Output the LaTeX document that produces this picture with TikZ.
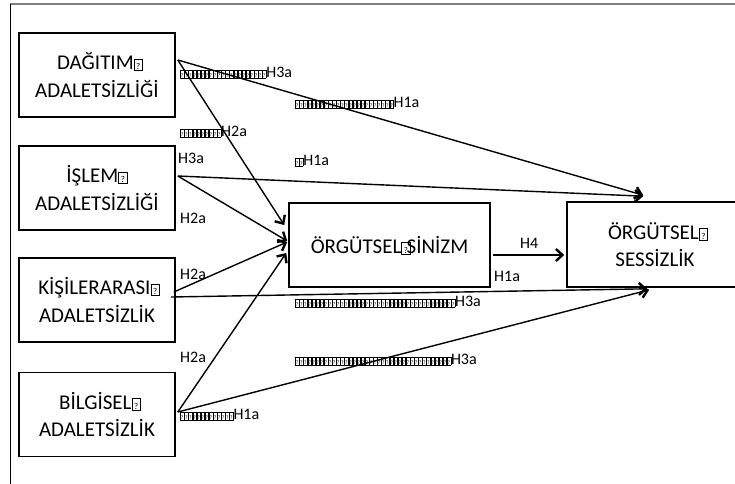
\documentclass[tikz,border=0pt]{standalone}
\usepackage{fontspec}
\setmainfont{Carlito}
\usetikzlibrary{arrows.meta,calc}
\newcommand\qg{{\setlength\fboxsep{0pt}\setlength\fboxrule{0.5pt}\fbox{\makebox[3.1pt]{\rule[-0.5pt]{0pt}{7.5pt}\fontsize{5.5}{5.5}\selectfont ?}}}}
\newcommand\qrow[1]{\foreach \qi in {1,...,#1}{\qg}}
\newcommand\qbig{{\setlength\fboxsep{0pt}\setlength\fboxrule{0.6pt}\fbox{\makebox[8pt]{\rule[-0.5pt]{0pt}{11pt}\fontsize{9}{9}\selectfont ?}}}}
\begin{document}
\begin{tikzpicture}[x=1pt,y=-1pt,
  boxst/.style={draw,line width=1.6pt,minimum width=156pt,minimum height=84pt,inner sep=0pt,align=center,font=\fontsize{21}{27.5}\selectfont},
  lab/.style={anchor=west,inner sep=0pt,font=\fontsize{16}{18}\selectfont},
  conn/.style={line width=1.4pt,-{Straight Barb[length=6.5pt,width=12pt,line width=2.4pt]}}]
\useasboundingbox (0,0) rectangle (735,483);
\draw[line width=1.2pt,gray] (10,4) -- (740,4);
\draw[line width=0.9pt] (10,4) -- (10,490);
\node[boxst] (b1) at (97,75) {\hspace*{6pt}DAĞITIM\qbig\\ADALETSİZLİĞİ};
\node[boxst] (b2) at (97,188) {İŞLEM\qbig\\ADALETSİZLİĞİ};
\node[boxst] (b3) at (97,300) {\hspace*{4pt}KİŞİLERARASI\qbig\\ADALETSİZLİK};
\node[boxst] (b4) at (97,414.5) {\hspace*{6pt}BİLGİSEL\qbig\\ADALETSİZLİK};
\node[boxst,minimum width=201pt] (m) at (389.5,245) {ÖRGÜTSEL\qbig\kern-4pt SİNİZM};
\node[boxst,minimum width=176pt,minimum height=85pt] (r) at (655,244.5) {\hspace*{6pt}ÖRGÜTSEL\qbig\\SESSİZLİK};
% connectors
\draw[conn] ($(b1.east)+(2,-15)$) -- ($(r.north west)+(77,-6)$);
\draw[conn] ($(b1.east)+(2,-15)$) -- ($(m.west)+(-4,-20)$);
\draw[conn] ($(b2.east)+(2,-12)$) -- ($(r.north west)+(77,-5)$);
\draw[conn] ($(b2.east)+(2,-12)$) -- ($(m.west)+(-1,-4)$);
\draw[conn] ($(b3.east)+(-2,-8)$) -- ($(m.west)+(-1,-3)$);
\draw[conn] ($(b3.east)+(-5,-3)$) -- ($(r.south west)+(81,1)$);
\draw[conn] ($(b4.east)+(2,-2.5)$) -- ($(m.west)+(-2,8)$);
\draw[conn] ($(b4.east)+(2,-2.5)$) -- ($(r.south west)+(83,2)$);
\draw[conn] ($(m.east)+(2,10)$) -- ($(r.west)+(-2,10.5)$);
% labels
\node[lab] (l1) at (180,73) {\qrow{21}H3a};
\node[lab] (l2) at (295,103) {\qrow{24}H1a};
\node[lab] (l3) at (180,132) {\qrow{10}H2a};
\node[lab] (l4) at (178,158) {H3a};
\node[lab] (l5) at (295,161) {\qrow{2}H1a};
\node[lab] (l6) at (180,218) {H2a};
\node[lab] (l7) at (180,274) {H2a};
\node[lab] (l8) at (520,243) {H4};
\node[lab] (l9) at (494,276) {H1a};
\node[lab] (l10) at (295,302) {\qrow{39}H3a};
\node[lab] (l11) at (180,357) {H2a};
\node[lab] (l12) at (295,360) {\qrow{38}H3a};
\node[lab] (l13) at (180,415) {\qrow{13}H1a};
\end{tikzpicture}
\end{document}
